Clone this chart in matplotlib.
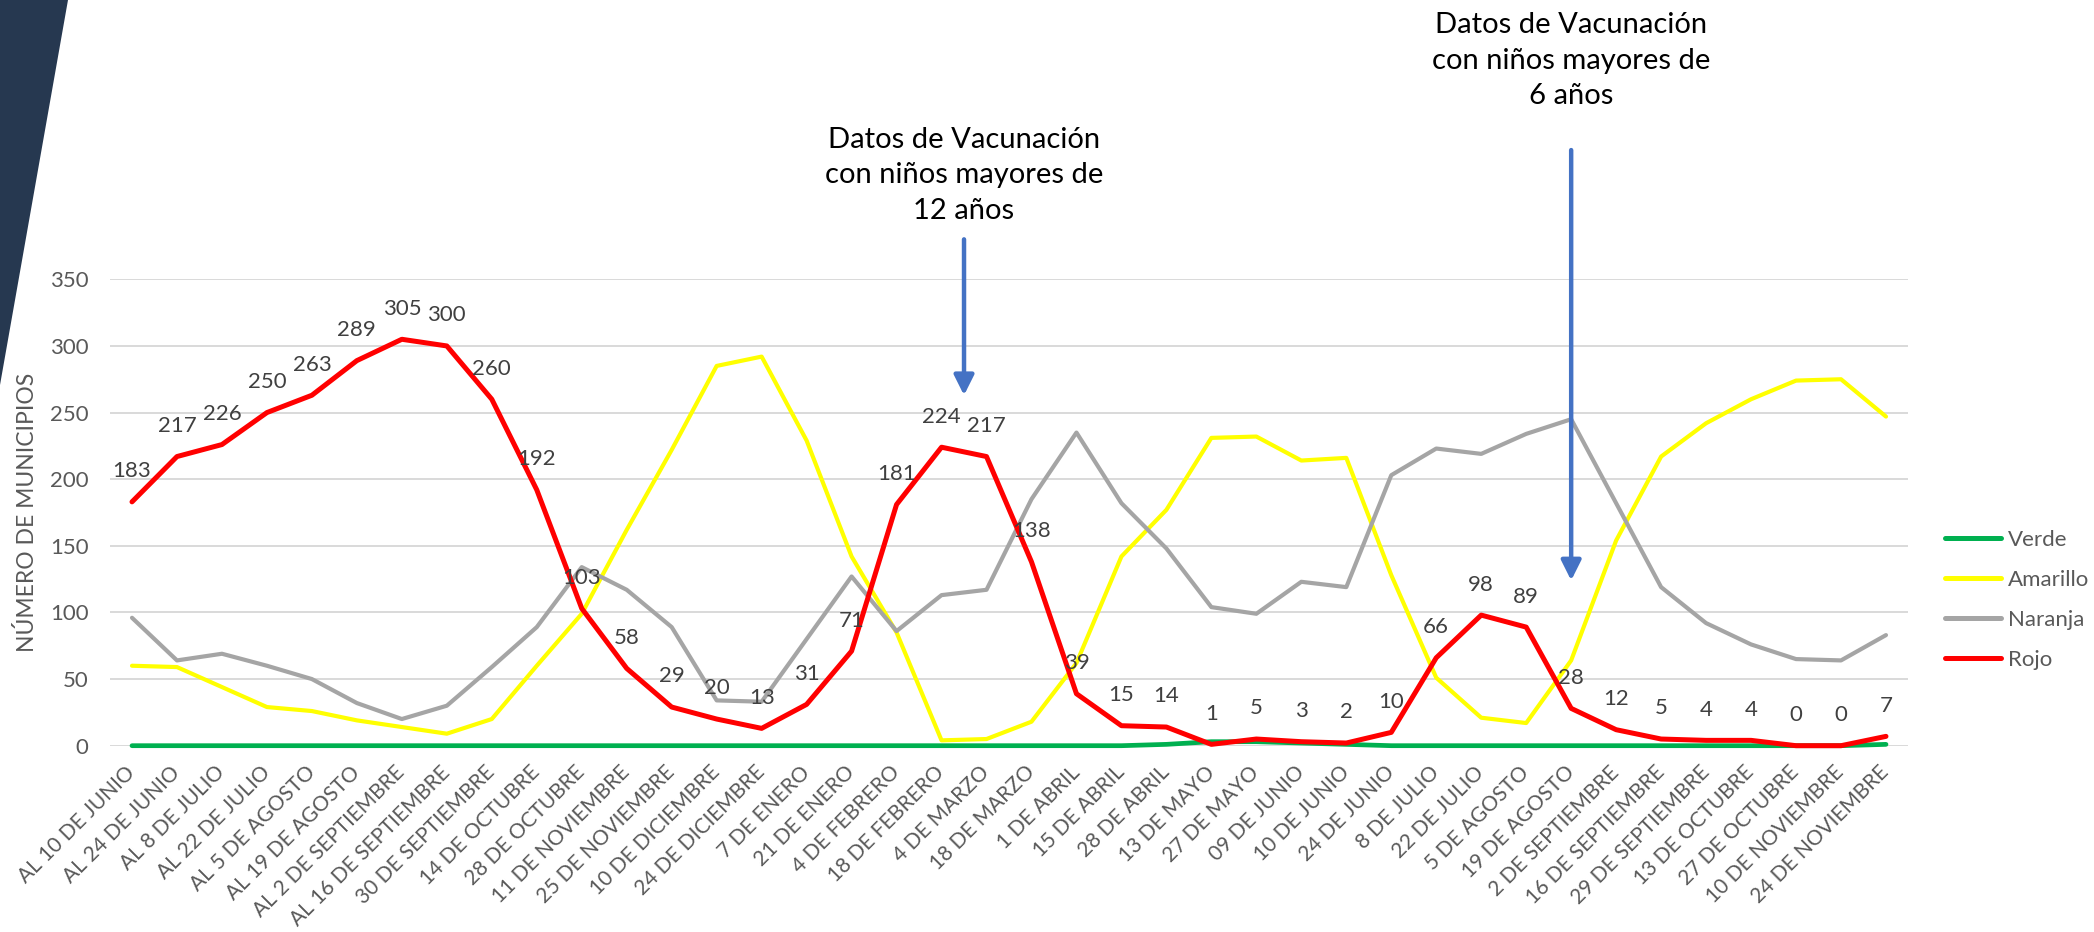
import matplotlib
matplotlib.use("Agg")
import matplotlib.pyplot as plt
from matplotlib.patches import Polygon

plt.rcParams['font.family'] = ['Lato', 'DejaVu Sans']

fechas = [
    "AL 10 DE JUNIO", "AL 24 DE JUNIO", "AL 8 DE JULIO", "AL 22 DE JULIO",
    "AL 5 DE AGOSTO", "AL 19 DE AGOSTO", "AL 2 DE SEPTIEMBRE", "AL 16 DE SEPTIEMBRE",
    "30 DE SEPTIEMBRE", "14 DE OCTUBRE", "28 DE OCTUBRE", "11 DE NOVIEMBRE",
    "25 DE NOVIEMBRE", "10 DE DICIEMBRE", "24 DE DICIEMBRE", "7 DE ENERO",
    "21 DE ENERO", "4 DE FEBRERO", "18 DE FEBRERO", "4 DE MARZO",
    "18 DE MARZO", "1 DE ABRIL", "15 DE ABRIL", "28 DE ABRIL",
    "13 DE MAYO", "27 DE MAYO", "09 DE JUNIO", "10 DE JUNIO",
    "24 DE JUNIO", "8 DE JULIO", "22 DE JULIO", "5 DE AGOSTO",
    "19 DE AGOSTO", "2 DE SEPTIEMBRE", "16 DE SEPTIEMBRE", "29 DE SEPTIEMBRE",
    "13 DE OCTUBRE", "27 DE OCTUBRE", "10 DE NOVIEMBRE", "24 DE NOVIEMBRE",
]

verde = [0, 0, 0, 0, 0, 0, 0, 0, 0, 0, 0, 0, 0, 0, 0, 0, 0, 0, 0, 0,
         0, 0, 0, 1, 3, 3, 2, 1, 0, 0, 0, 0, 0, 0, 0, 0, 0, 0, 0, 1]

amarillo = [60, 59, 44, 29, 26, 19, 14, 9, 20, 60, 99, 162, 222, 285, 292, 229, 142, 85, 4, 5,
            18, 62, 142, 177, 231, 232, 214, 216, 128, 51, 21, 17, 64, 154, 217, 242, 260, 274, 275, 247]

naranja = [96, 64, 69, 60, 50, 32, 20, 30, 59, 89, 134, 117, 89, 34, 33, 80, 127, 86, 113, 117,
           185, 235, 182, 148, 104, 99, 123, 119, 203, 223, 219, 234, 245, 182, 119, 92, 76, 65, 64, 83]

rojo = [183, 217, 226, 250, 263, 289, 305, 300, 260, 192, 103, 58, 29, 20, 13, 31, 71, 181, 224, 217,
        138, 39, 15, 14, 1, 5, 3, 2, 10, 66, 98, 89, 28, 12, 5, 4, 4, 0, 0, 7]

series = [
    ("Verde", verde, "#00B050", 3.4),
    ("Amarillo", amarillo, "#FFFF00", 3.0),
    ("Naranja", naranja, "#A5A5A5", 3.0),
    ("Rojo", rojo, "#FF0000", 3.6),
]

# texto, x de la flecha, y inicio, y punta, y centro del texto
notas = [
    ("Datos de Vacunación\ncon niños mayores de\n12 años", 18.5, 380, 263, 428),
    ("Datos de Vacunación\ncon niños mayores de\n6 años", 32, 447, 124, 514),
]

fig = plt.figure(figsize=(20.94, 9.32), dpi=100)
ax = fig.add_axes([0.0523, 0.1999, 0.8591, 0.5004])

# franja oscura del borde izquierdo
fig.patches.append(Polygon([(0, 1), (68 / 2094, 1), (0, 1 - 385 / 932)], closed=True,
                           transform=fig.transFigure, facecolor="#263850", edgecolor="none"))

x = list(range(len(fechas)))
for nombre, vals, color, lw in series:
    ax.plot(x, vals, color=color, lw=lw, label=nombre, clip_on=False,
            solid_joinstyle="round", solid_capstyle="round", zorder=3)

for xi, v in zip(x, rojo):
    ax.annotate(str(v), (xi, v), xytext=(0, 22), textcoords="offset points",
                ha="center", va="center", fontsize=16, color="#404040", zorder=5)

for texto, xa, ytop, ytip, ytext in notas:
    ax.annotate("", xy=(xa, ytip), xytext=(xa, ytop),
                arrowprops=dict(arrowstyle="-|>", color="#4472C4", lw=3.2, mutation_scale=30,
                                shrinkA=0, shrinkB=0),
                annotation_clip=False, zorder=6)
    ax.text(xa, ytext, texto, ha="center", va="center", fontsize=21, color="black",
            linespacing=1.45, clip_on=False)

ax.set_xlim(-0.5, len(fechas) - 0.5)
ax.set_ylim(0, 350)
ax.set_yticks(range(0, 351, 50))
ax.set_xticks(x)
ax.set_xticklabels(fechas, rotation=45, ha="right", va="center", rotation_mode="anchor")
ax.tick_params(axis="x", length=0, pad=17, labelsize=15, labelcolor="#595959")
ax.tick_params(axis="y", length=0, pad=15, labelsize=16, labelcolor="#595959")
ax.grid(axis="y", color="#D9D9D9", lw=1.4, zorder=0)
ax.set_axisbelow(True)
for s in ax.spines.values():
    s.set_visible(False)

ax.set_ylabel("NÚMERO DE MUNICIPIOS", fontsize=16.5, color="#595959")
ax.yaxis.set_label_coords(-0.040, 0.5)

leg = fig.legend(loc="center left", bbox_to_anchor=(0.929, 0.356), frameon=False,
                 fontsize=16, handlelength=2.5, handletextpad=0.3, labelspacing=0.9,
                 borderpad=0, borderaxespad=0)
for line in leg.get_lines():
    line.set_linewidth(3.6)
    line.set_solid_capstyle("round")
for t in leg.get_texts():
    t.set_color("#595959")

fig.savefig("out.png", dpi=100, facecolor="white")
